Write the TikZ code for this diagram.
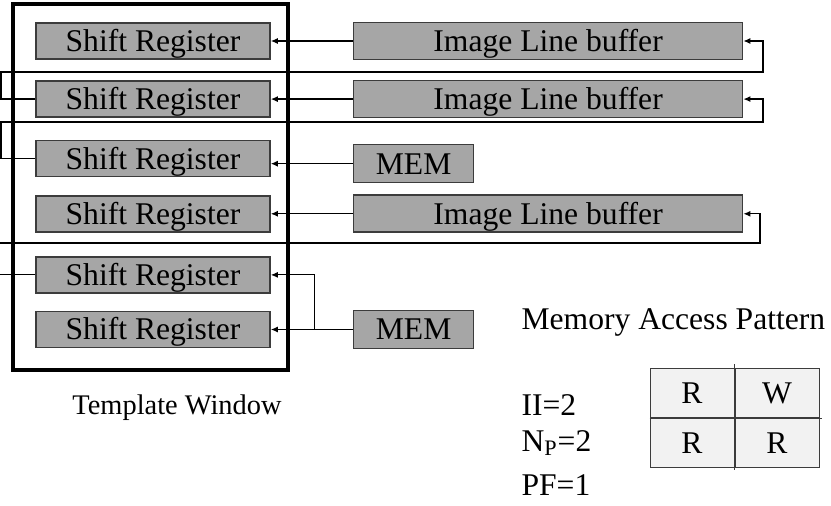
\documentclass[tikz,border=0pt]{standalone}
\usepackage{fontspec}
\setmainfont{Liberation Serif}
\usetikzlibrary{positioning,arrows.meta}
\definecolor{boxgray}{RGB}{166,166,166}
\definecolor{edgegray}{RGB}{60,60,60}
\definecolor{cellgray}{RGB}{242,242,242}
\newcommand{\regwidth}{117pt}
\newcommand{\bufwidth}{194.5pt}
\newcommand{\memwidth}{60pt}
\newcommand{\boxheight}{18pt}
\newcommand{\boxgap}{41pt}
\newcommand{\cellwidth}{42pt}
\newcommand{\cellheight}{24.5pt}
\newcommand{\capheight}{10.4pt}
\tikzstyle{reg}=[fill=boxgray,text=black,draw=edgegray,shape=rectangle,line width=0.8pt,
                 minimum width=\regwidth,minimum height=\boxheight,inner sep=0pt,
                 text height=\capheight,text depth=0pt]
\tikzstyle{buf}=[reg,minimum width=\bufwidth,minimum height=18.5pt]
\tikzstyle{mem}=[reg,minimum width=\memwidth,minimum height=19pt]
\tikzstyle{winbox}=[fill=none,draw=black,shape=rectangle,line width=2pt,
                    minimum width=137.5pt,minimum height=183pt]
\tikzstyle{cell}=[fill=cellgray,text=black,draw=edgegray,shape=rectangle,line width=0.5pt,
                  minimum width=\cellwidth,minimum height=\cellheight,inner sep=0pt,
                  text height=\capheight,text depth=0pt]
\tikzstyle{txt}=[fill=none,text=black,draw=none,inner sep=0pt]

\begin{document}
\begin{tikzpicture}[x=0.5pt,y=-0.5pt,line width=0.6pt,
                    font=\fontsize{15.8}{19}\selectfont,
                    >={Latex[length=3.5pt,width=3pt]}]
\useasboundingbox (0,0) rectangle (831,506);

\node [winbox] (window) at (150.5,187) {};

\node [reg] (sr1) at (153,41) {Shift Register};
\node [reg, below=10.25pt of sr1] (sr2) {Shift Register};
\node [reg, below=11pt of sr2] (sr3) {Shift Register};
\node [reg, below=8.75pt of sr3] (sr4) {Shift Register};
\node [reg, below=11.75pt of sr4] (sr5) {Shift Register};
\node [reg, below=8.5pt of sr5] (sr6) {Shift Register};

\node [buf, right=\boxgap of sr1] (buf1) {Image Line buffer};
\node [buf, right=\boxgap of sr2] (buf2) {Image Line buffer};
\node [mem, right=\boxgap of sr3, yshift=-2.5pt] (mem1) {MEM};
\node [buf, right=\boxgap of sr4] (buf3) {Image Line buffer};
\node [mem, right=\boxgap of sr6] (mem2) {MEM};

\coordinate (rail1) at (1,72);
\coordinate (rail2) at (1,122);
\coordinate (rail3) at (-4,243);
\coordinate (turn1) at (763,0);
\coordinate (turn3) at (760,0);

\draw [->] (buf1.west) -- (sr1.east);
\draw [->] (buf2.west) -- (sr2.east);
\draw [->] (mem1.west) -- (sr3.east |- mem1.west);
\draw [->] (buf3.west) -- (sr4.east);
\draw [->] (mem2.west) -- (sr6.east);
\draw [->] (mem2.west) ++(-19pt,0) |- (sr5.east);

\draw [->] (sr2.west) -| (rail1) -- (rail1 -| turn1) |- (buf1.east);
\draw [->] (sr3.west) -| (rail2) -- (rail2 -| turn1) |- (buf2.east);
\draw [->] (sr5.west) -| (rail3) -- (rail3 -| turn3) |- (buf3.east);

\node [txt, font=\fontsize{14.2}{17}\selectfont] (caption) at (177,408) {Template Window};
\node [txt, anchor=west] (pattern) at (521,322) {Memory Access Pattern};
\node [txt, anchor=west] (ii) at (521,405) {II=2};
\node [txt, anchor=west] (np) at (521,443) {N\textsubscript{P}=2};
\node [txt, anchor=west] (pf) at (521,485) {PF=1};

\node [cell] (c11) at (692,393.5) {R};
\node [cell, right=0pt of c11] (c12) {W};
\node [cell, below=0pt of c11] (c21) {R};
\node [cell, right=0pt of c21] (c22) {R};
\draw [edgegray, line width=0.5pt] ([yshift=2pt]c11.north east) -- ([yshift=-1pt]c21.south east);
\draw [edgegray, line width=0.5pt] (c21.north west) -- ([xshift=1pt]c22.north east);
\end{tikzpicture}
\end{document}
